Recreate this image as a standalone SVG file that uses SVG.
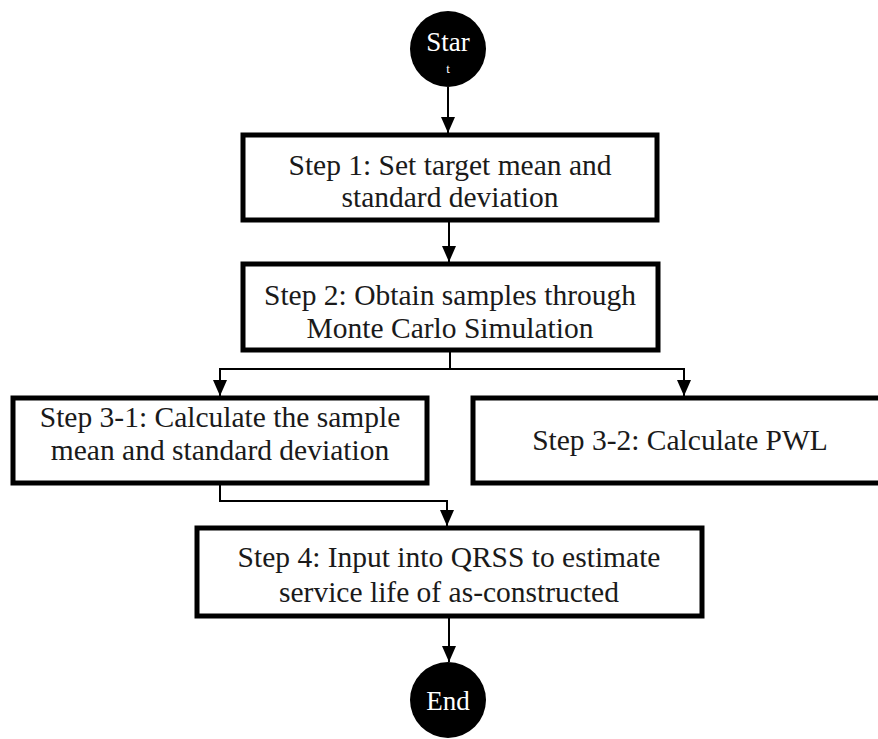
<svg xmlns="http://www.w3.org/2000/svg" width="878" height="739" viewBox="0 0 878 739">
<defs>
<marker id="arr" markerWidth="16" markerHeight="14" refX="16" refY="7" orient="auto" markerUnits="userSpaceOnUse" viewBox="0 0 16 14">
<path d="M0,0 L16,7 L0,14 Z" fill="#000"/>
</marker>
</defs>
<style>
.box{fill:#fff;stroke:#000;stroke-width:5}
.t{font-family:"Liberation Serif","Times New Roman",serif;font-size:29.5px;fill:#1a1a1a;text-anchor:middle}
.w{font-family:"Liberation Serif","Times New Roman",serif;font-size:27px;fill:#fff;text-anchor:middle}
.c{fill:none;stroke:#000;stroke-width:2}
</style>
<rect width="878" height="739" fill="#fff"/>
<g id="connectors">
<line class="c" x1="448" y1="87" x2="448" y2="133" marker-end="url(#arr)"/>
<line class="c" x1="449" y1="221" x2="449" y2="262" marker-end="url(#arr)"/>
<polyline class="c" points="450,352 450,369 220,369 220,396" marker-end="url(#arr)"/>
<polyline class="c" points="450,369 684,369 684,396" marker-end="url(#arr)"/>
<polyline class="c" points="220,485 220,501 447,501 447,526" marker-end="url(#arr)"/>
<line class="c" x1="449" y1="618" x2="449" y2="662" marker-end="url(#arr)"/>
</g>
<g id="start">
<circle cx="448" cy="49" r="38" fill="#000"/>
<text class="w" x="448" y="51">Star</text>
<text class="w" x="448" y="73" style="font-size:13px">t</text>
</g>
<g id="step1">
<rect class="box" x="243" y="135" width="414" height="85"/>
<text class="t" x="450" y="175">Step 1: Set target mean and</text>
<text class="t" x="450" y="207">standard deviation</text>
</g>
<g id="step2">
<rect class="box" x="243" y="264" width="415" height="86"/>
<text class="t" x="450" y="305">Step 2: Obtain samples through</text>
<text class="t" x="450" y="338">Monte Carlo Simulation</text>
</g>
<g id="step3-1">
<rect class="box" x="13" y="398" width="414" height="85"/>
<text class="t" x="220" y="427">Step 3-1: Calculate the sample</text>
<text class="t" x="220" y="460">mean and standard deviation</text>
</g>
<g id="step3-2">
<rect class="box" x="473" y="398" width="420" height="85"/>
<text class="t" x="680" y="450">Step 3-2: Calculate PWL</text>
</g>
<g id="step4">
<rect class="box" x="197" y="528" width="505" height="88"/>
<text class="t" x="449" y="567">Step 4: Input into QRSS to estimate</text>
<text class="t" x="449" y="602">service life of as-constructed</text>
</g>
<g id="end">
<circle cx="448" cy="700" r="38" fill="#000"/>
<text class="w" x="448" y="710">End</text>
</g>
</svg>
